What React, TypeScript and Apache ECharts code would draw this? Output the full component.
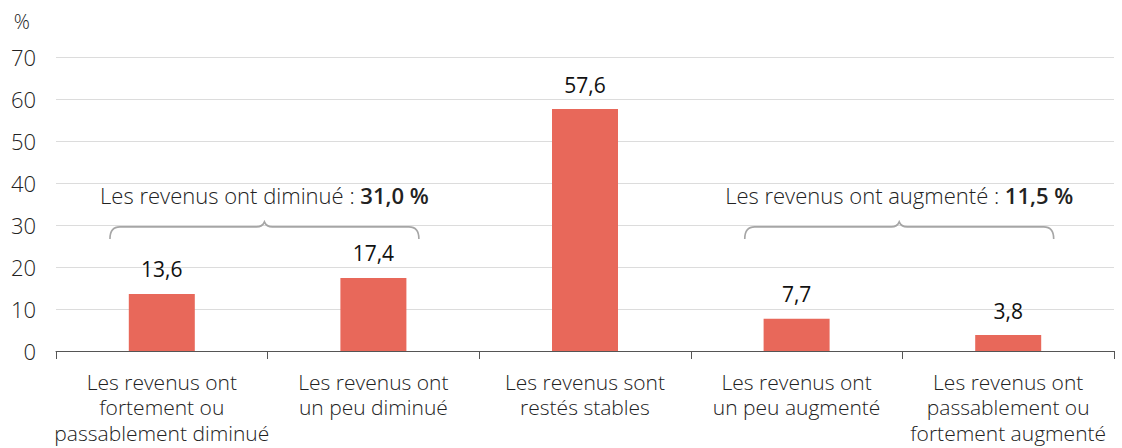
import React, { useEffect, useRef } from "react";
import * as echarts from "echarts";

const categories = [
  "Les revenus ont\nfortement ou\npassablement diminué",
  "Les revenus ont\nun peu diminué",
  "Les revenus sont\nrestés stables",
  "Les revenus ont\nun peu augmenté",
  "Les revenus ont\npassablement ou\nfortement augmenté",
];
const values = [13.6, 17.4, 57.6, 7.7, 3.8];
// brace groups: start category index, end category index, tip value, label, total
const braceStart = [0, 3];
const braceEnd = [1, 4];
const braceTip = [30.5, 30.5];
const braceLabels = ["Les revenus ont diminué : ", "Les revenus ont augmenté : "];
const braceTotals = ["31,0 %", "11,5 %"];

const FONT = "'Open Sans', 'Noto Sans', sans-serif";
const fmt = (v: number) => v.toFixed(1).replace(".", ",");

export default function App() {
  const ref = useRef<HTMLDivElement>(null);
  useEffect(() => {
    const chart = echarts.init(ref.current!, null, { renderer: "svg" });
    const braceData = braceStart.map((s, i) => [s, braceEnd[i], braceTip[i], i]);
    chart.setOption({
      animation: false,
      textStyle: { fontFamily: FONT },
      grid: { left: 56, right: 8, top: 57, bottom: 97, containLabel: false },
      xAxis: {
        type: "category",
        data: categories,
        axisLine: { lineStyle: { color: "#555", width: 1 } },
        axisTick: { show: true, length: 8, lineStyle: { color: "#555" } },
        axisLabel: {
          color: "#222",
          fontSize: 21,
          fontWeight: 300,
          fontFamily: FONT,
          lineHeight: 25.5,
          margin: 18,
          interval: 0,
        },
      },
      yAxis: {
        type: "value",
        min: 0,
        max: 70,
        interval: 10,
        name: "%",
        nameLocation: "end",
        nameGap: 26,
        nameTextStyle: {
          color: "#222",
          fontSize: 20,
          fontWeight: 300,
          fontFamily: FONT,
          align: "right",
          padding: [0, 26, 0, 0],
        },
        axisLine: { show: false },
        axisTick: { show: false },
        axisLabel: { color: "#222", fontSize: 22, fontWeight: 300, fontFamily: FONT, margin: 20 },
        splitLine: { lineStyle: { color: "#dcdcdc", width: 1 } },
      },
      series: [
        {
          type: "bar",
          data: values,
          barWidth: 66,
          itemStyle: { color: "#e8685a" },
          label: {
            show: true,
            position: "top",
            distance: 14,
            color: "#111",
            fontSize: 21,
            fontFamily: FONT,
            formatter: (p: any) => fmt(p.value),
          },
        },
        {
          type: "custom",
          data: braceData,
          encode: { x: [0, 1], y: 2 },
          z: 5,
          silent: true,
          renderItem: (params: any, api: any) => {
            const s = api.value(0);
            const e = api.value(1);
            const tip = api.value(2);
            const idx = api.value(3);
            const band = api.size([1, 0])[0];
            const p1 = api.coord([s, tip]);
            const p2 = api.coord([e, tip]);
            const x1 = p1[0] - band * 0.245;
            const x2 = p2[0] + band * 0.215;
            const xm = (x1 + x2) / 2;
            const yTip = p1[1] - 1;
            const yMid = yTip + 5;
            const yEnd = yTip + 17;
            const r = 10;
            const d = `M${x1},${yEnd} Q${x1},${yMid} ${x1 + r},${yMid} L${xm - 8},${yMid} Q${xm - 2},${yMid} ${xm},${yTip} Q${xm + 2},${yMid} ${xm + 8},${yMid} L${x2 - r},${yMid} Q${x2},${yMid} ${x2},${yEnd}`;
            return {
              type: "group",
              children: [
                {
                  type: "path",
                  shape: { pathData: d },
                  style: { fill: "none", stroke: "#a6a6a6", lineWidth: 1.6 },
                },
                {
                  type: "text",
                  x: xm,
                  y: yTip - 27,
                  style: {
                    text: `{n|${braceLabels[idx]}}{b|${braceTotals[idx]}}`,
                    align: "center",
                    verticalAlign: "middle",
                    rich: {
                      n: { fontSize: 22, fontWeight: 300, fontFamily: FONT, fill: "#222", color: "#222" },
                      b: { fontSize: 22, fontWeight: 600, fontFamily: FONT, fill: "#222", color: "#222" },
                    },
                  },
                },
              ],
            };
          },
        },
      ],
    });
    return () => chart.dispose();
  }, []);
  return (
    <div
      ref={ref}
      style={{ position: "fixed", left: 0, top: 0, width: 1122, height: 448, background: "#fff" }}
    />
  );
}
